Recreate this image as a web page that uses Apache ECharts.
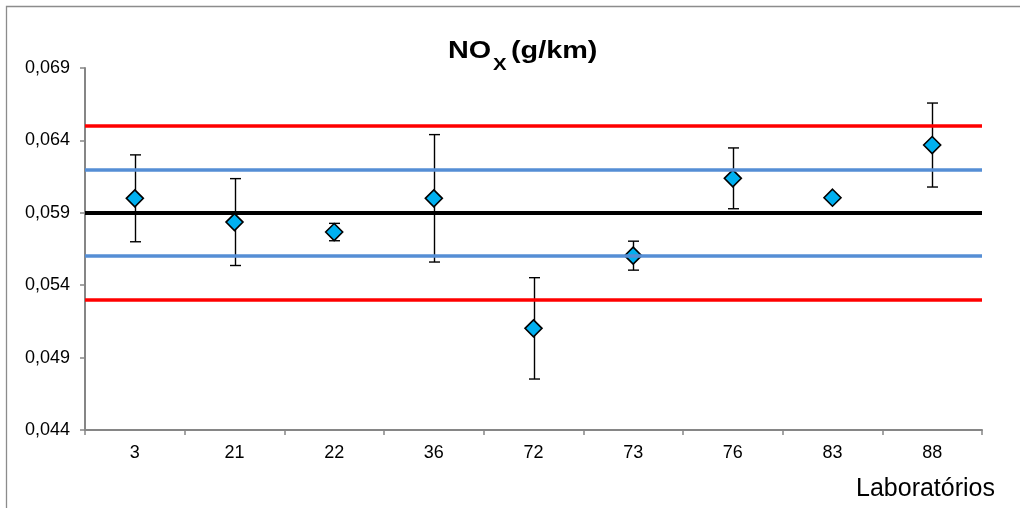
<!DOCTYPE html>
<html>
<head>
<meta charset="utf-8">
<script src="https://cdn.jsdelivr.net/npm/echarts@6/dist/echarts.min.js"></script>
<style>
html,body{margin:0;padding:0;background:#fff;}
#chart{width:1020px;height:508px;}
</style>
</head>
<body>
<div id="chart"></div>
<script>
// ---- data ----
const labs = ['3', '21', '22', '36', '72', '73', '76', '83', '88'];
const values = [0.0600, 0.05836, 0.05767, 0.0600, 0.05102, 0.05604, 0.06138, 0.06004, 0.06368];
const errors = [0.0030, 0.0030, 0.0006, 0.0044, 0.0035, 0.0010, 0.0021, 0, 0.0029];
const yTicks = [0.044, 0.049, 0.054, 0.059, 0.064, 0.069];
const upperLimit = 0.065;
const upperWarn = 0.062;
const centerLine = 0.059;
const lowerWarn = 0.056;
const lowerLimit = 0.053;

const chart = echarts.init(document.getElementById('chart'), null, {renderer: 'canvas'});
const fmt = v => v.toFixed(3).replace('.', ',');
const FF = '"Liberation Sans", Arial, sans-serif';

const errData = labs.map((l, i) => [i, values[i] - errors[i], values[i] + errors[i], errors[i]]);

function txt(x, y, text, size) {
  return {type: 'text', x: x, y: y, scaleX: 1.2, silent: true,
    style: {text: text, font: 'bold ' + size + 'px ' + FF, fill: '#000', textVerticalAlign: 'middle', verticalAlign: 'middle'}};
}

const option = {
  animation: false,
  backgroundColor: '#fff',
  grid: {left: 85, right: 38, top: 68, bottom: 78, containLabel: false},
  xAxis: {
    type: 'category',
    data: labs,
    boundaryGap: true,
    axisLine: {lineStyle: {color: '#868686', width: 2}},
    axisTick: {show: true, length: 5, lineStyle: {color: '#868686', width: 1.5}},
    axisLabel: {color: '#000', fontSize: 18, fontFamily: FF, margin: 14},
    splitLine: {show: false}
  },
  yAxis: {
    type: 'value',
    min: yTicks[0],
    max: yTicks[yTicks.length - 1],
    axisLine: {show: true, lineStyle: {color: '#868686', width: 2}},
    axisTick: {show: true, length: 5, customValues: yTicks, lineStyle: {color: '#868686', width: 1.5}},
    axisLabel: {customValues: yTicks, formatter: fmt, color: '#000', fontSize: 18, fontFamily: FF, margin: 15},
    splitLine: {show: false}
  },
  graphic: [
    {type: 'rect', shape: {x: 6.5, y: 6.5, width: 1040, height: 540}, style: {fill: 'none', stroke: '#8c8c8c', lineWidth: 1.3}, silent: true},
    txt(448, 51, 'NO', 24),
    txt(493, 65, 'X', 17),
    txt(511, 51, '(g/km)', 24),
    {type: 'text', right: 25, top: 477, style: {text: 'Laboratórios', fontSize: 25, fontFamily: FF, fill: '#000'}}
  ],
  series: [
    {
      type: 'line',
      data: [],
      z: 2,
      markLine: {
        silent: true,
        symbol: 'none',
        precision: 5,
        label: {show: false},
        animation: false,
        data: [
          {yAxis: upperLimit, lineStyle: {color: '#FF0000', width: 3.5, type: 'solid'}},
          {yAxis: lowerLimit, lineStyle: {color: '#FF0000', width: 3.5, type: 'solid'}},
          {yAxis: upperWarn, lineStyle: {color: '#558ED5', width: 3.5, type: 'solid'}},
          {yAxis: lowerWarn, lineStyle: {color: '#558ED5', width: 3.5, type: 'solid'}},
          {yAxis: centerLine, lineStyle: {color: '#000000', width: 4, type: 'solid'}}
        ]
      }
    },
    {
      type: 'custom',
      z: 3,
      data: errData,
      encode: {x: 0, y: [1, 2]},
      renderItem: function (params, api) {
        if (api.value(3) === 0) return null;
        const lo = api.coord([api.value(0), api.value(1)]);
        const hi = api.coord([api.value(0), api.value(2)]);
        const x = Math.round(lo[0]) + 0.5;
        const hw = 5.5;
        const st = {stroke: '#000', lineWidth: 1.4};
        return {
          type: 'group',
          children: [
            {type: 'line', shape: {x1: x, y1: hi[1], x2: x, y2: lo[1]}, style: st},
            {type: 'line', shape: {x1: x - hw, y1: hi[1], x2: x + hw, y2: hi[1]}, style: st},
            {type: 'line', shape: {x1: x - hw, y1: lo[1], x2: x + hw, y2: lo[1]}, style: st}
          ]
        };
      }
    },
    {
      type: 'scatter',
      z: 4,
      data: values,
      symbol: 'diamond',
      symbolSize: 17,
      itemStyle: {color: '#00B0F0', borderColor: '#000', borderWidth: 1.6, opacity: 1}
    }
  ]
};
chart.setOption(option);
</script>
</body>
</html>
